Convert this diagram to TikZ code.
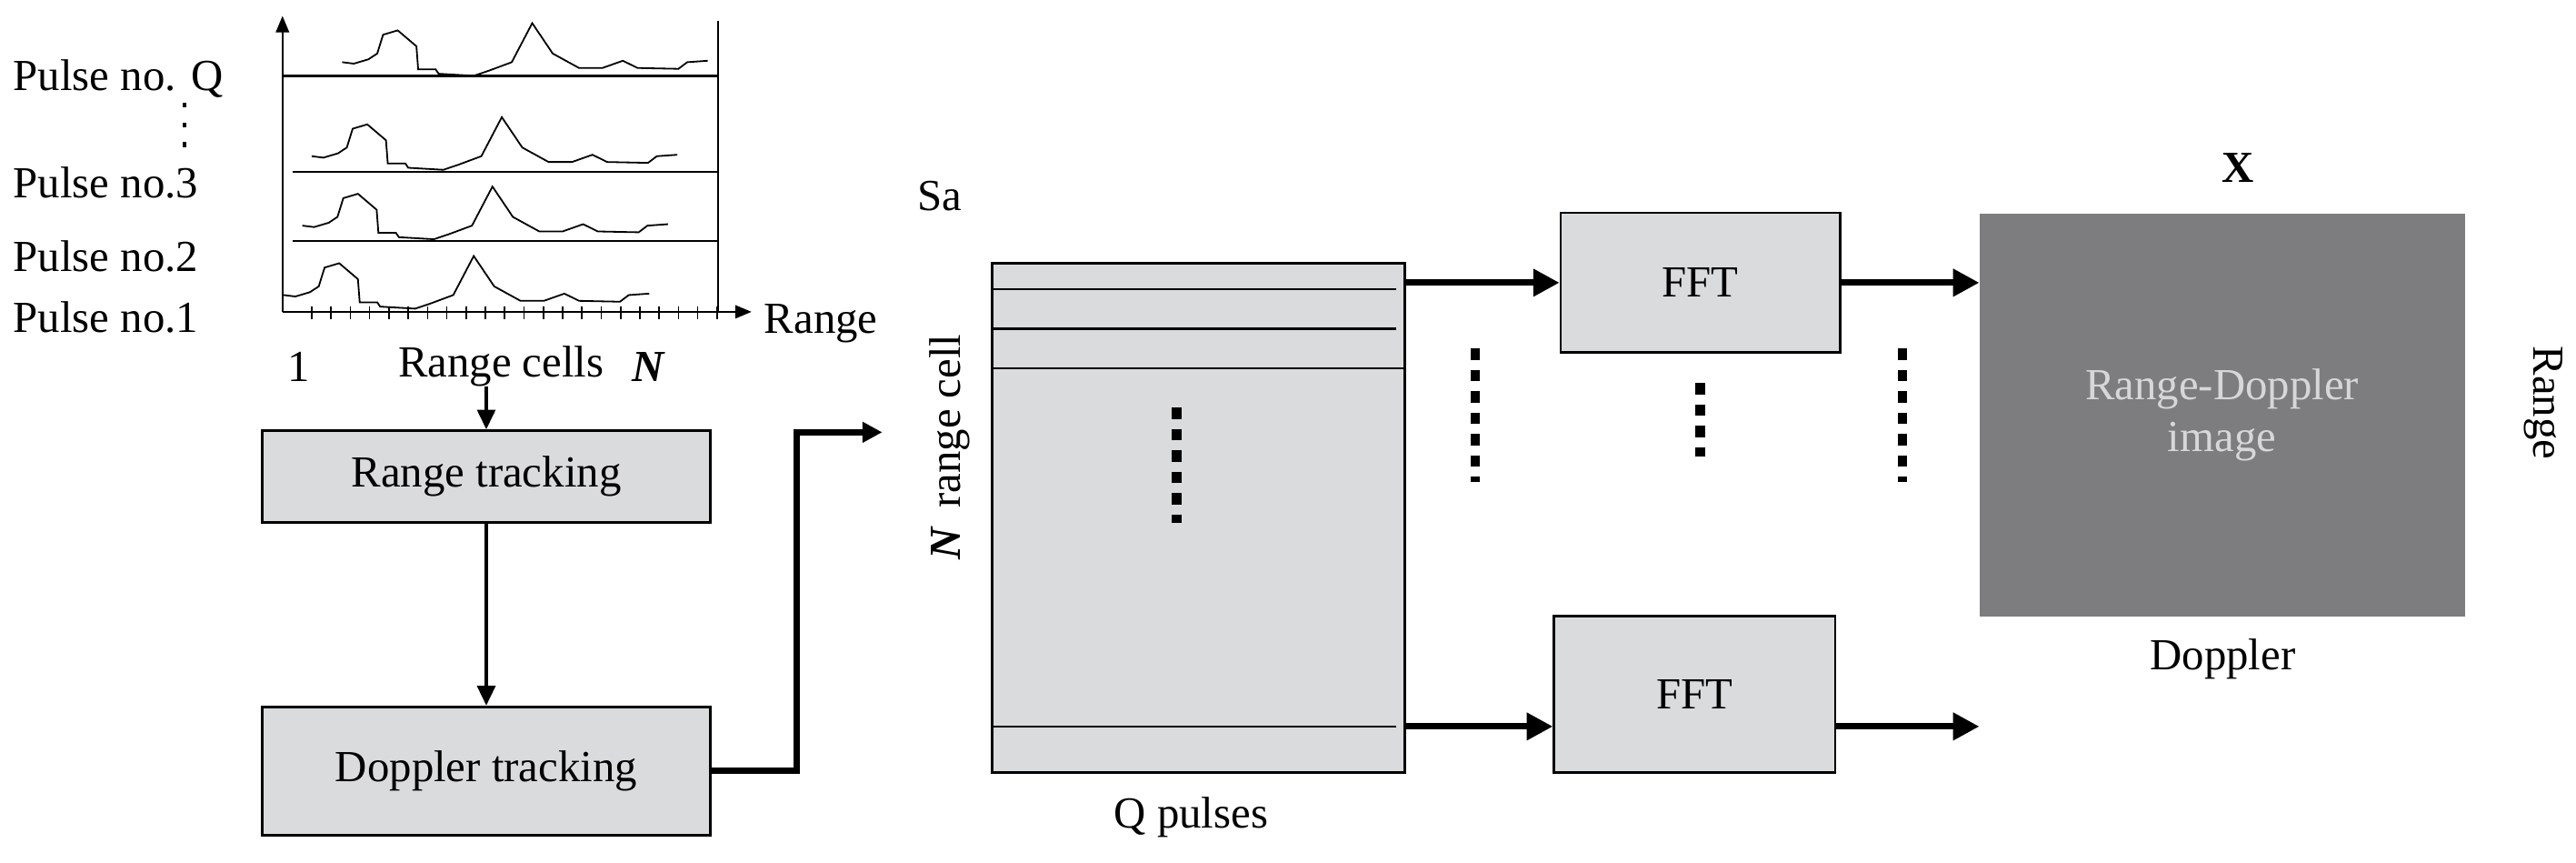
\documentclass[tikz,border=0pt]{standalone}
\usepackage{fontspec}
\setmainfont{Liberation Serif}
\usetikzlibrary{arrows.meta}
\definecolor{boxg}{RGB}{218,219,221}
\definecolor{rdg}{RGB}{125,125,128}
\definecolor{rdt}{RGB}{215,215,218}
\begin{document}
\begin{tikzpicture}[x=1pt,y=-1pt,
  lbl/.style={font=\fontsize{27}{30}\selectfont, inner sep=0pt},
  box/.style={draw, fill=boxg, line width=1.5pt, inner sep=0pt, font=\fontsize{27}{30}\selectfont},
  arr/.style={line width=4pt, -{Triangle[length=16pt,width=16pt]}},
  tarr/.style={line width=2pt, -{Triangle[length=12pt,width=11pt]}},
  dots/.style={line width=6pt, dash pattern=on 7pt off 6pt}]
\useasboundingbox (0,0) rectangle (1568,525);
% ---- plot
\begin{scope}[x=0.356pt,y=-0.176pt]
  \draw[line width=1.3pt,-{Triangle[length=10pt,width=8pt]}] (483,1078) -- (483,55);
  \draw[line width=1.3pt,-{Triangle[length=10pt,width=8pt]}] (483,1078) -- (1285,1078);
  \draw[line width=1.3pt] (1228,72) -- (1228,1078);
  \draw[line width=1.3pt] (483,263) -- (1228,263);
  \draw[line width=1.3pt] (500,595) -- (1228,595);
  \draw[line width=1.3pt] (500,833) -- (1228,833);
  \foreach \t in {0,...,21} \draw[line width=0.9pt] (533+\t*33,1058) -- (533+\t*33,1105);
  \def\pulse{(585,215) -- (605,220) -- (630,205) -- (645,185) -- (655,120) -- (680,105) -- (712,160) -- (715,240) -- (745,240) -- (750,255) -- (810,262) -- (835,245) -- (875,215) -- (910,80) -- (945,185) -- (990,235) -- (1030,235) -- (1065,210) -- (1090,235) -- (1160,238) -- (1175,215) -- (1210,210)}
  \draw[line width=1pt] \pulse;
  \draw[line width=1pt, shift={(-52,325)}] \pulse;
  \draw[line width=1pt, shift={(-68,565)}] \pulse;
  \draw[line width=1pt, shift={(-100,805)}] \pulse;
  \draw[line width=2.2pt, dash pattern=on 3pt off 9pt] (315,355) -- (315,520);
\end{scope}
\node[lbl, anchor=west] (pq) at (8,48) {Pulse no. Q};
\node[lbl, anchor=west] (p3) at (8,111) {Pulse no.3};
\node[lbl, anchor=west] (p2) at (8,156) {Pulse no.2};
\node[lbl, anchor=west] (p1) at (8,193) {Pulse no.1};
\node[lbl, anchor=west] (rg) at (465,197) {Range};
\node[lbl] (one) at (182,223) {1};
\node[lbl] (rc) at (305,223) {Range cells};
\node[lbl] (nn) at (395,223) {\textbf{\textit{N}}};
\coordinate (plotbot) at (296,235);
% ---- tracking
\node[box, minimum width=273pt, minimum height=56pt] (rt) at (296,290) {Range tracking};
\node[box, minimum width=273pt, minimum height=78pt] (dt) at (296,469) {Doppler tracking};
\draw[tarr] (plotbot) -- (rt.north);
\draw[tarr] (rt.south) -- (dt.north);
\coordinate (sain) at (537,263);
\draw[line width=4pt, -{Triangle[length=12pt,width=12pt]}] (dt.east) -- (485,469) |- (sain);
% ---- Sa
\node[lbl] (salbl) at (572,119) {Sa};
\node[box, minimum width=251pt, minimum height=310pt] (sa) at (729.5,315) {};
\draw[line width=1.5pt] (604,176) -- (850,176);
\draw[line width=1.5pt] (604,200) -- (850,200);
\draw[line width=1.5pt] (604,224) -- (855,224);
\draw[line width=1.5pt] (604,442) -- (850,442);
\draw[dots] (716,248) -- (716,318);
\node[lbl, rotate=90] (nrc) at (578,272) {\textbf{\textit{N}}\, range cell};
\node[lbl] (qp) at (725,497) {Q pulses};
% ---- FFT
\node[box, minimum width=170pt, minimum height=85pt] (f1) at (1035,172) {FFT};
\node[box, minimum width=171pt, minimum height=95pt] (f2) at (1031.5,422.5) {FFT};
\draw[arr] (sa.east |- f1.west) -- (f1.west);
\draw[arr] (sa.east |- 0,442) -- (f2.west |- 0,442);
\draw[dots] (898,212) -- (898,293);
\draw[dots] (1035,233) -- (1035,278);
% ---- RD
\node[draw=rdg, fill=rdg, minimum width=295pt, minimum height=245pt, text=rdt, align=center,
  font=\fontsize{27}{32}\selectfont] (rd) at (1352.5,252.5) {Range-Doppler\\image};
\draw[arr] (f1.east) -- (rd.west |- f1.east);
\draw[arr] (f2.east |- 0,442) -- (rd.west |- 0,442);
\draw[dots] (1158,212) -- (1158,293);
\node[lbl] (xl) at (1362,102) {\textbf{X}};
\node[lbl] (dop) at (1353,401) {Doppler};
\node[lbl, rotate=-90] (rr) at (1548,245) {Range};
\end{tikzpicture}
\end{document}
